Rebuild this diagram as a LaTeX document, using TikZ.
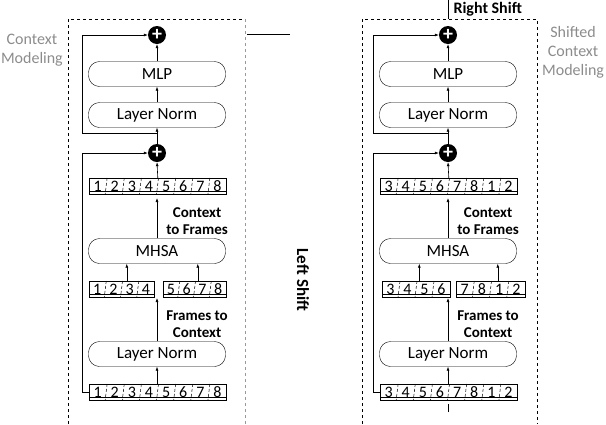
\documentclass[tikz,border=0pt]{standalone}
\usepackage{fontspec}
\setmainfont{Carlito}
\usetikzlibrary{arrows.meta, calc}

\tikzset{
  blk/.style={draw, rounded corners=11pt, minimum height=25pt, inner sep=0pt, font=\fontsize{17}{17}\selectfont},
  plus/.style={circle, fill=black, minimum size=18pt, inner sep=0pt, text=white, font=\bfseries\fontsize{20}{20}\selectfont},
  lbl/.style={font=\bfseries\fontsize{15}{17}\selectfont, align=center},
  gray lbl/.style={text=black!45, font=\fontsize{16}{19}\selectfont, align=center},
  arr/.style={-{Latex[length=4pt,width=3pt]}, line width=0.6pt},
  ln/.style={line width=0.7pt},
}

% strip: name, x1, x2, ytop, count, labels
\newcommand\tokstrip[6]{%
  \node[draw, line width=0.6pt, minimum width=#3pt-#2pt, minimum height=16pt, inner sep=0pt, anchor=north west] (#1) at (#2,#4) {};
  \draw[line width=0.6pt] ($(#1.south west)+(0,-3)$) -- ($(#1.south east)+(0,-3)$);
  \foreach \t [count=\i] in {#6}{
    \pgfmathsetmacro\cw{(#3-#2)/#5}
    \node[font=\fontsize{16}{16}\selectfont, inner sep=0pt] at ($(#1.west)+({(\i-0.5)*\cw},0)$) {\t};
    \ifnum\i<#5
      \draw[densely dashed, line width=0.5pt] ($(#1.north west)+({\i*\cw+1},0)$) -- ($(#1.south west)+({\i*\cw-1},0)$);
    \fi
  }%
}

\begin{document}
\begin{tikzpicture}[x=1pt, y=-1pt]
\useasboundingbox (0,0) rectangle (606,424);

% ---------- left panel ----------
\draw[dashed, ln] (68,424) -- (68,19) -- (245,19);
\draw[dashed, ln, black!40] (245,19) -- (245,424);
\node[gray lbl, anchor=east, inner sep=0pt] at (63,50) {Context\\Modeling};
\draw[ln] (247,34) -- (290,34);
\node[lbl, rotate=-90, font=\bfseries\fontsize{17}{17}\selectfont] at (303,280) {Left Shift};

\node[plus] (lp1) at (157,35) {+};
\node[blk, minimum width=137pt] (lmlp) at (157,74) {MLP};
\node[blk, minimum width=137pt] (lln1) at (157,115) {Layer Norm};
\node[plus] (lp2) at (157,153) {+};
\tokstrip{ls1}{89}{226}{178}{8}{1,2,3,4,5,6,7,8}
\node[lbl, anchor=east, inner sep=0pt] at (228,221) {Context\\to Frames};
\node[blk, minimum width=137pt] (lmh) at (157,251) {MHSA};
\tokstrip{lsa}{89}{154}{281}{4}{1,2,3,4}
\tokstrip{lsb}{163}{226}{281}{4}{5,6,7,8}
\node[lbl, anchor=east, inner sep=0pt] at (228,324) {Frames to\\Context};
\node[blk, minimum width=137pt] (lln2) at (157,354) {Layer Norm};
\tokstrip{ls0}{89}{226}{384}{8}{1,2,3,4,5,6,7,8}

\draw[arr] (ls0.north -| lln2) -- (lln2.south);
\draw[arr] (lln2.north) -- (157,298);
\draw[arr] ($(lsa.north)+(5,0)$) -- ($(lsa.north|-lmh.south)+(5,0)$);
\draw[arr] ($(lsb.north)+(3,0)$) -- ($(lsb.north|-lmh.south)+(3,0)$);
\draw[arr] (lmh.north) -- (157,198);
\draw[arr] (ls1.north) -- (lp2.south);
\draw[arr] (lp2.north) -- (lln1.south);
\draw[arr] (lln1.north) -- (lmlp.south);
\draw[arr] (lmlp.north) -- (lp1.south);
\draw[ln, arr] (157,133) -- (82,133) -- (82,35) -- (lp1.west);
\draw[ln, arr] (89,392) -- (82,392) -- (82,153) -- (lp2.west);

% ---------- right panel ----------
\draw[dashed, ln] (362,424) -- (362,19) -- (537,19) -- (537,424);
\node[gray lbl, anchor=west, inner sep=0pt] at (542,52) {Shifted\\Context\\Modeling};
\draw[ln] (448,0) -- (448,19);
\node[lbl, font=\bfseries\fontsize{16}{16}\selectfont, anchor=west] at (450,9) {Right Shift};

\node[plus] (rp1) at (448,35) {+};
\node[blk, minimum width=137pt] (rmlp) at (448,74) {MLP};
\node[blk, minimum width=137pt] (rln1) at (448,115) {Layer Norm};
\node[plus] (rp2) at (448,153) {+};
\tokstrip{rs1}{380}{517}{178}{8}{3,4,5,6,7,8,1,2}
\node[lbl, anchor=east, inner sep=0pt] at (519,221) {Context\\to Frames};
\node[blk, minimum width=137pt] (rmh) at (448,251) {MHSA};
\tokstrip{rsa}{382}{450}{281}{4}{3,4,5,6}
\tokstrip{rsb}{456}{525}{281}{4}{7,8,1,2}
\node[lbl, anchor=east, inner sep=0pt] at (519,324) {Frames to\\Context};
\node[blk, minimum width=137pt] (rln2) at (448,354) {Layer Norm};
\tokstrip{rs0}{380}{517}{384}{8}{3,4,5,6,7,8,1,2}
\coordinate (rin) at (448,412);

\draw[ln] (rin) -- (448,404);
\draw[arr] (rs0.north -| rln2) -- (rln2.south);
\draw[arr] (rln2.north) -- (448,298);
\draw[arr] ($(rsa.north)+(3,0)$) -- ($(rsa.north|-rmh.south)+(3,0)$);
\draw[arr] ($(rsb.north)+(7,0)$) -- ($(rsb.north|-rmh.south)+(7,0)$);
\draw[arr] (rmh.north) -- (448,198);
\draw[arr] (rs1.north) -- (rp2.south);
\draw[arr] (rp2.north) -- (rln1.south);
\draw[arr] (rln1.north) -- (rmlp.south);
\draw[arr] (rmlp.north) -- (rp1.south);
\draw[ln, arr] (448,133) -- (373,133) -- (373,35) -- (rp1.west);
\draw[ln, arr] (380,392) -- (373,392) -- (373,153) -- (rp2.west);
\end{tikzpicture}
\end{document}
